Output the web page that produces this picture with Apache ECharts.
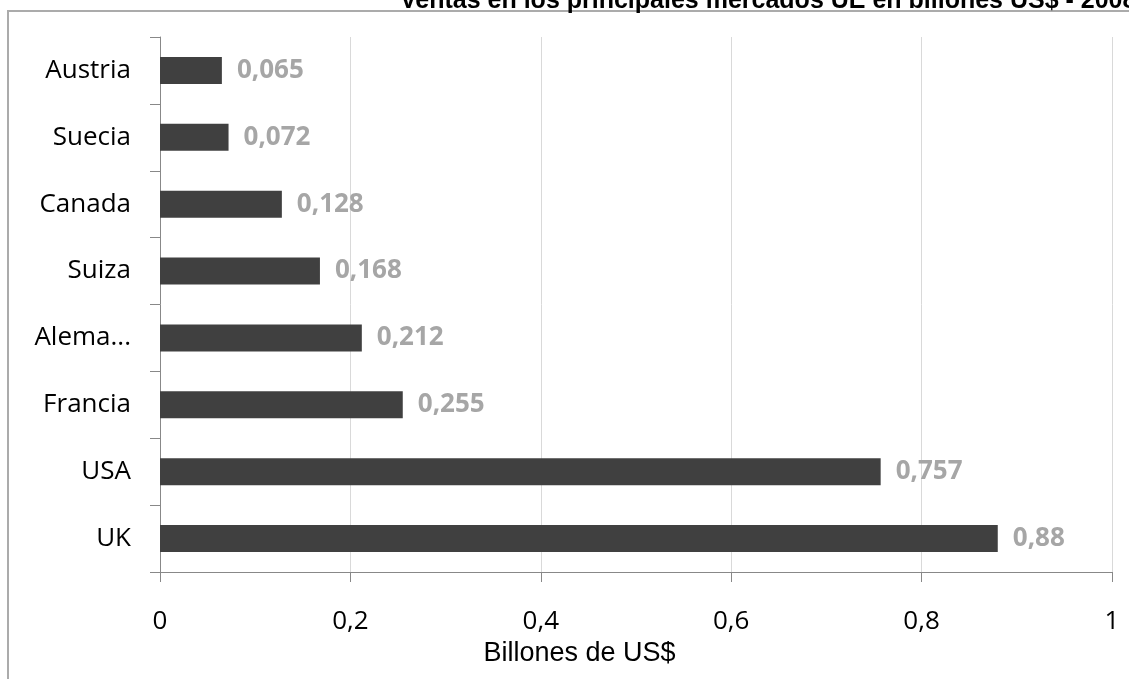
<!DOCTYPE html>
<html><head><meta charset="utf-8">
<script src="https://cdn.jsdelivr.net/npm/echarts@6/dist/echarts.min.js"></script>
<style>html,body{margin:0;padding:0;background:#fff}#c{width:1129px;height:679px}</style>
</head><body><div id="c"></div>
<script>
const categories = ["UK", "USA", "Francia", "Alemania", "Suiza", "Canada", "Suecia", "Austria"];
const values = [0.88, 0.757, 0.255, 0.212, 0.168, 0.128, 0.072, 0.065];
const xTicks = [0, 0.2, 0.4, 0.6, 0.8, 1];
const titleText = "Ventas en los principales mercados UE en billones US$ - 2008";
const axisName = "Billones de US$";

const fmt = v => String(v).replace('.', ',');
const chart = echarts.init(document.getElementById('c'), null, {renderer: 'canvas'});
chart.setOption({
  animation: false,
  backgroundColor: '#fff',
  graphic: [
    {type: 'rect', shape: {x: 8, y: 11, width: 1200, height: 700}, style: {fill: 'none', stroke: '#ababab', lineWidth: 2}, z: -1},
    {type: 'text', x: 400, y: -11, z: 10, style: {text: titleText, fontSize: 25, fontWeight: 'bold', fontFamily: '"Liberation Sans", Arial', fill: '#000'}}
  ],
  grid: {left: 160, right: 17, top: 37, bottom: 107, containLabel: false},
  xAxis: {
    type: 'value', min: 0, max: 1, interval: 0.2,
    axisLine: {show: true, lineStyle: {color: '#888', width: 1}},
    axisTick: {show: true, length: 10, lineStyle: {color: '#888'}},
    splitLine: {show: true, lineStyle: {color: '#d9d9d9', width: 1}},
    axisLabel: {margin: 37, fontSize: 26, color: '#000', fontFamily: '"Open Sans", sans-serif', formatter: v => fmt(v)},
    name: axisName, nameLocation: 'middle', nameGap: 59,
    nameTextStyle: {fontSize: 27, color: '#000', fontFamily: '"Liberation Sans", Arial', padding: [0, 0, 0, -113]}
  },
  yAxis: {
    type: 'category', data: categories,
    axisLine: {show: true, lineStyle: {color: '#888', width: 1}},
    axisTick: {show: true, length: 10, lineStyle: {color: '#888'}},
    axisLabel: {margin: 29, fontSize: 26, color: '#000', fontFamily: '"Open Sans", sans-serif', width: 100, overflow: 'truncate', ellipsis: '...'}
  },
  series: [{
    type: 'bar', data: values, barWidth: 27,
    itemStyle: {color: '#404040'},
    label: {show: true, position: 'right', distance: 15, fontSize: 26, fontWeight: 'bold', color: '#a6a6a6', fontFamily: '"Open Sans", sans-serif', formatter: p => fmt(p.value)}
  }]
});
</script></body></html>
